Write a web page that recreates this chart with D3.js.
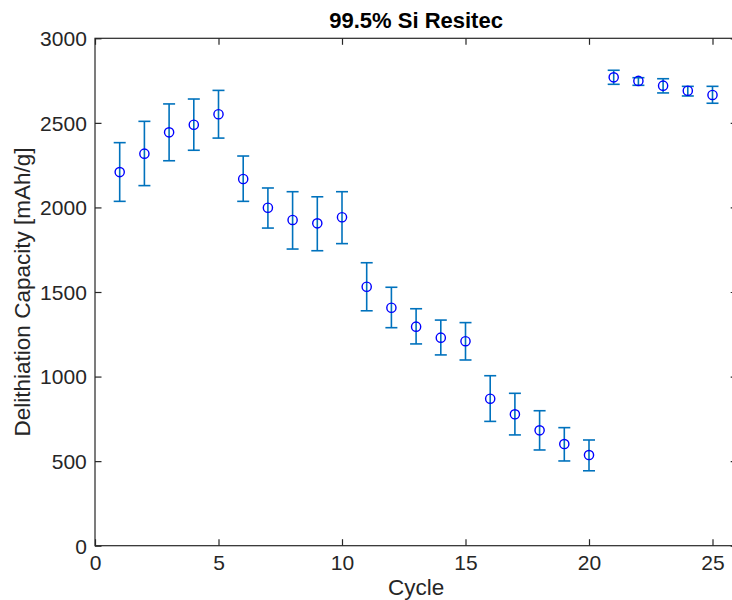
<!DOCTYPE html>
<html>
<head>
<meta charset="utf-8">
<script src="https://cdn.jsdelivr.net/npm/d3@7"></script>
<style>
  html, body { margin: 0; padding: 0; background: #fff; }
  svg { display: block; font-family: "Liberation Sans", Arial, Helvetica, sans-serif; }
</style>
</head>
<body>
<svg id="chart" width="732" height="600"></svg>
<script>
// Delithiation capacity per cycle, mean with lower/upper error bounds (mAh/g)
const cycles = [1, 2, 3, 4, 5, 6, 7, 8, 9, 10, 11, 12, 13, 14, 15, 16, 17, 18, 19, 20, 21, 22, 23, 24, 25];
const capacity = [2209, 2318, 2444, 2489, 2551, 2168, 1998, 1926, 1906, 1942,
                  1531, 1407, 1295, 1230, 1209, 869, 777, 682, 601, 536,
                  2769, 2748, 2720, 2690, 2665];
const upper = [2383, 2509, 2612, 2641, 2692, 2304, 2115, 2093, 2063, 2093,
               1673, 1528, 1401, 1334, 1319, 1005, 901, 798, 698, 625,
               2811, 2767, 2761, 2716, 2716];
const lower = [2036, 2129, 2276, 2338, 2410, 2036, 1878, 1754, 1744, 1786,
               1389, 1289, 1193, 1128, 1098, 735, 655, 566, 501, 443,
               2728, 2722, 2677, 2659, 2616];
const xTicks = [0, 5, 10, 15, 20, 25];
const yTicks = [0, 500, 1000, 1500, 2000, 2500, 3000];

const titleText = "99.5% Si Resitec";
const xLabel = "Cycle";
const yLabel = "Delithiation Capacity [mAh/g]";

const svg = d3.select("#chart");
const plotLeft = 95, plotTop = 38.3, plotBottom = 545.7;
const pxPerCycle = 24.7;
const plotRight = plotLeft + 26 * pxPerCycle;

const x = d3.scaleLinear().domain([0, 26]).range([plotLeft, plotRight]);
const y = d3.scaleLinear().domain([0, 3000]).range([plotBottom, plotTop]);

const axisColor = "#262626";
const tickLen = 6.5;
const tickFont = "21px";

// Box frame
svg.append("rect")
  .attr("x", plotLeft).attr("y", plotTop)
  .attr("width", plotRight - plotLeft).attr("height", plotBottom - plotTop)
  .attr("fill", "none").attr("stroke", axisColor).attr("stroke-width", 1.2);

// Bottom axis (ticks point inward)
const xAxis = svg.append("g")
  .attr("transform", `translate(0,${plotBottom})`)
  .call(d3.axisBottom(x).tickValues(xTicks).tickFormat(d3.format("d"))
    .tickSizeInner(-tickLen).tickSizeOuter(0));
// Left axis
const yAxis = svg.append("g")
  .attr("transform", `translate(${plotLeft},0)`)
  .call(d3.axisLeft(y).tickValues(yTicks).tickFormat(d3.format("d"))
    .tickSizeInner(-tickLen).tickSizeOuter(0));
// Top and right mirrored ticks
svg.append("g")
  .attr("transform", `translate(0,${plotTop})`)
  .call(d3.axisTop(x).tickValues(xTicks).tickSizeInner(-tickLen).tickSizeOuter(0).tickFormat(""));
svg.append("g")
  .attr("transform", `translate(${plotRight},0)`)
  .call(d3.axisRight(y).tickValues(yTicks).tickSizeInner(-tickLen).tickSizeOuter(0).tickFormat(""));

svg.selectAll(".domain").remove();
svg.selectAll(".tick line").attr("stroke", axisColor).attr("stroke-width", 1.2);
svg.selectAll(".tick text")
  .attr("fill", axisColor)
  .style("font-size", tickFont)
  .style("font-family", "'Liberation Sans', Arial, sans-serif");
xAxis.selectAll(".tick text").attr("y", 24.6).attr("dy", null);
yAxis.selectAll(".tick text").attr("x", -8.2).attr("dy", "0.35em");

// Error bars
const data = cycles.map((c, i) => ({ c, v: capacity[i], lo: lower[i], hi: upper[i] }));
const errColor = "#0072BD";
const capHalf = 6;
const eb = svg.append("g").attr("stroke", errColor).attr("stroke-width", 1.6).attr("fill", "none");
eb.selectAll("line.v").data(data).join("line").attr("class", "v")
  .attr("x1", d => x(d.c)).attr("x2", d => x(d.c))
  .attr("y1", d => y(d.lo)).attr("y2", d => y(d.hi));
eb.selectAll("line.t").data(data).join("line").attr("class", "t")
  .attr("x1", d => x(d.c) - capHalf).attr("x2", d => x(d.c) + capHalf)
  .attr("y1", d => y(d.hi)).attr("y2", d => y(d.hi));
eb.selectAll("line.b").data(data).join("line").attr("class", "b")
  .attr("x1", d => x(d.c) - capHalf).attr("x2", d => x(d.c) + capHalf)
  .attr("y1", d => y(d.lo)).attr("y2", d => y(d.lo));

// Open circle markers
svg.append("g").selectAll("circle").data(data).join("circle")
  .attr("cx", d => x(d.c)).attr("cy", d => y(d.v)).attr("r", 4.6)
  .attr("fill", "none").attr("stroke", "#0000ff").attr("stroke-width", 1.4);

// Title and axis labels
const midX = (plotLeft + plotRight) / 2;
svg.append("text")
  .attr("x", midX).attr("y", 28)
  .attr("text-anchor", "middle")
  .attr("fill", "#000")
  .style("font-size", "22px").style("font-weight", "bold")
  .text(titleText);

svg.append("text")
  .attr("x", midX).attr("y", 595)
  .attr("text-anchor", "middle")
  .attr("fill", axisColor)
  .style("font-size", "22.5px")
  .text(xLabel);

svg.append("text")
  .attr("transform", `translate(30,${(plotTop + plotBottom) / 2}) rotate(-90)`)
  .attr("text-anchor", "middle")
  .attr("fill", axisColor)
  .style("font-size", "22.5px")
  .text(yLabel);
</script>
</body>
</html>
